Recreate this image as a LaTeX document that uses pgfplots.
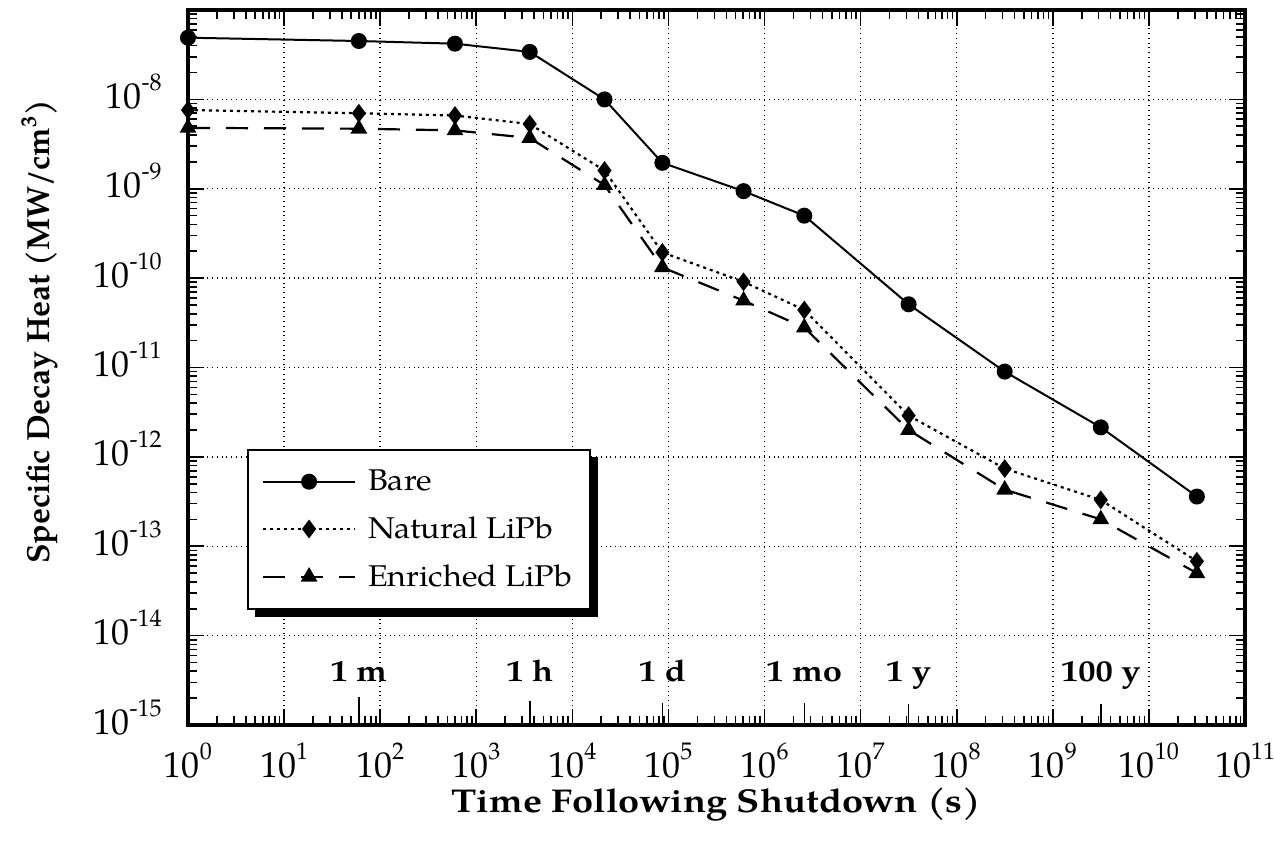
\documentclass[border=0pt]{standalone}
\usepackage{fontspec}
\setmainfont{TeX Gyre Pagella}
\newfontfamily\widefont{TeX Gyre Pagella}[FakeStretch=1.15]
\newfontfamily\legfont{TeX Gyre Pagella}[FakeStretch=1.08]
\usepackage{pgfplots}
\pgfplotsset{compat=1.18}
\newcommand{\tl}[1]{10\raisebox{9pt}{\fontsize{12}{12}\selectfont #1}}
\begin{document}
\begin{tikzpicture}
\begin{loglogaxis}[
  name=ax,
  scale only axis,
  width=528.5pt, height=357.5pt,
  xmin=1, xmax=1e11, ymin=1e-15, ymax=1e-7,
  xtick={1,10,100,1e3,1e4,1e5,1e6,1e7,1e8,1e9,1e10,1e11},
  xticklabels={\tl{0},\tl{1},\tl{2},\tl{3},\tl{4},\tl{5},\tl{6},\tl{7},\tl{8},\tl{9},\tl{10},\tl{11}},
  minor xtick={2e0,3e0,4e0,5e0,6e0,7e0,8e0,9e0,
    2e1,3e1,4e1,5e1,6e1,7e1,8e1,9e1,
    2e2,3e2,4e2,5e2,6e2,7e2,8e2,9e2,
    2e3,3e3,4e3,5e3,6e3,7e3,8e3,9e3,
    2e4,3e4,4e4,5e4,6e4,7e4,8e4,9e4,
    2e5,3e5,4e5,5e5,6e5,7e5,8e5,9e5,
    2e6,3e6,4e6,5e6,6e6,7e6,8e6,9e6,
    2e7,3e7,4e7,5e7,6e7,7e7,8e7,9e7,
    2e8,3e8,4e8,5e8,6e8,7e8,8e8,9e8,
    2e9,3e9,4e9,5e9,6e9,7e9,8e9,9e9,
    2e10,3e10,4e10,5e10,6e10,7e10,8e10,9e10},
  ytick={1e-15,1e-14,1e-13,1e-12,1e-11,1e-10,1e-9,1e-8},
  yticklabels={\tl{-15},\tl{-14},\tl{-13},\tl{-12},\tl{-11},\tl{-10},\tl{-9},\tl{-8}},
  minor ytick={2e-15,3e-15,4e-15,5e-15,6e-15,7e-15,8e-15,9e-15,
    2e-14,3e-14,4e-14,5e-14,6e-14,7e-14,8e-14,9e-14,
    2e-13,3e-13,4e-13,5e-13,6e-13,7e-13,8e-13,9e-13,
    2e-12,3e-12,4e-12,5e-12,6e-12,7e-12,8e-12,9e-12,
    2e-11,3e-11,4e-11,5e-11,6e-11,7e-11,8e-11,9e-11,
    2e-10,3e-10,4e-10,5e-10,6e-10,7e-10,8e-10,9e-10,
    2e-9,3e-9,4e-9,5e-9,6e-9,7e-9,8e-9,9e-9,
    2e-8,3e-8,4e-8,5e-8,6e-8,7e-8,8e-8,9e-8},
  tick align=inside,
  major tick length=8pt, minor tick length=4.5pt,
  major tick style={draw=black, solid, line width=0.8pt},
  minor tick style={draw=black, solid, line width=0.8pt},
  xmajorgrids=true, ymajorgrids=true,
  major grid style={dotted, black, line width=0.7pt},
  axis line style={line width=1.6pt},
  xticklabel style={font=\fontsize{18}{18}\selectfont, anchor=base, inner sep=0pt, yshift=-26pt},
  yticklabel style={font=\fontsize{18}{18}\selectfont, anchor=base east, inner sep=0pt, xshift=-13pt, yshift=-4.5pt},
  xlabel={\widefont\bfseries Time Following Shutdown (s)},
  ylabel={\textbf{Specific Decay Heat (MW/cm\textsuperscript{3})}},
  xlabel style={font=\fontsize{16.5}{16.5}\selectfont, at={(axis description cs:0.5,0)}, anchor=center, yshift=-40pt},
  ylabel style={font=\fontsize{16}{16}\selectfont, at={(axis description cs:-0.14,0.55)}, anchor=center},
  legend style={name=leg, at={(0.056,0.386)}, anchor=north west, draw=black, line width=0.8pt, fill=white,
    font=\legfont\fontsize{15}{15}\selectfont, row sep=7.5pt, column sep=4pt, inner xsep=7pt, inner ysep=8pt},
  legend cell align=left,
  legend image code/.code={\draw[mark repeat=2,mark phase=2] plot coordinates {(0pt,0pt) (23pt,0pt) (46pt,0pt)};},
]
\addplot[black, line width=1pt, mark=*, mark size=3.5pt, mark options={solid}] coordinates {
(1,4.9e-8) (60,4.5e-8) (600,4.2e-8) (3600,3.4e-8) (21600,1.0e-8) (86400,1.95e-9)
(604800,9.4e-10) (2.592e6,5.0e-10) (3.156e7,5.1e-11) (3.156e8,9.0e-12) (3.156e9,2.14e-12) (3.156e10,3.6e-13)};
\addlegendentry{Bare}
\addplot[black, line width=1.1pt, dash pattern=on 1.5pt off 2pt, mark=diamond*, mark size=3.8pt, mark options={solid}] coordinates {
(1,7.6e-9) (60,7.0e-9) (600,6.6e-9) (3600,5.3e-9) (21600,1.6e-9) (86400,1.94e-10)
(604800,9.1e-11) (2.592e6,4.4e-11) (3.156e7,2.9e-12) (3.156e8,7.4e-13) (3.156e9,3.3e-13) (3.156e10,6.8e-14)};
\addlegendentry{Natural LiPb}
\addplot[black, line width=1.1pt, dash pattern=on 11pt off 8pt, mark=triangle*, mark size=3.75pt, mark options={solid}] coordinates {
(1,4.8e-9) (60,4.7e-9) (600,4.5e-9) (3600,3.7e-9) (21600,1.1e-9) (86400,1.32e-10)
(604800,5.6e-11) (2.592e6,2.8e-11) (3.156e7,2.0e-12) (3.156e8,4.3e-13) (3.156e9,2.0e-13) (3.156e10,5.0e-14)};
\addlegendentry{Enriched LiPb}
\draw[line width=0.8pt] (axis cs:60,1e-15) -- ++(0pt,14pt);
\draw[line width=0.8pt] (axis cs:3600,1e-15) -- ++(0pt,12pt);
\draw[line width=0.8pt] (axis cs:86400,1e-15) -- ++(0pt,11pt);
\draw[line width=0.8pt] (axis cs:2.592e6,1e-15) -- ++(0pt,11pt);
\draw[line width=0.8pt] (axis cs:3.156e7,1e-15) -- ++(0pt,10.5pt);
\draw[line width=0.8pt] (axis cs:3.156e9,1e-15) -- ++(0pt,10.5pt);
\begin{scope}[every node/.style={font=\widefont\bfseries\fontsize{15}{15}\selectfont, anchor=base}]
\node at (axis cs:60,3.1e-15) {1 m};
\node at (axis cs:3600,3.1e-15) {1 h};
\node at (axis cs:86400,3.1e-15) {1 d};
\node at (axis cs:2.592e6,3.1e-15) {1 mo};
\node at (axis cs:3.156e7,3.1e-15) {1 y};
\node at (axis cs:3.156e9,3.1e-15) {100 y};
\end{scope}
\end{loglogaxis}
% drop shadow of the legend box (right and bottom strips)
\fill[black] ([yshift=-4pt]leg.north east) rectangle ([shift={(3.5pt,-3.5pt)}]leg.south east);
\fill[black] ([xshift=4pt]leg.south west) rectangle ([shift={(3.5pt,-3.5pt)}]leg.south east);
\pgfresetboundingbox
\path[use as bounding box] ([shift={(-94pt,-63pt)}]ax.south west) rectangle ([shift={(14.5pt,5pt)}]ax.north east);
\end{tikzpicture}
\end{document}
